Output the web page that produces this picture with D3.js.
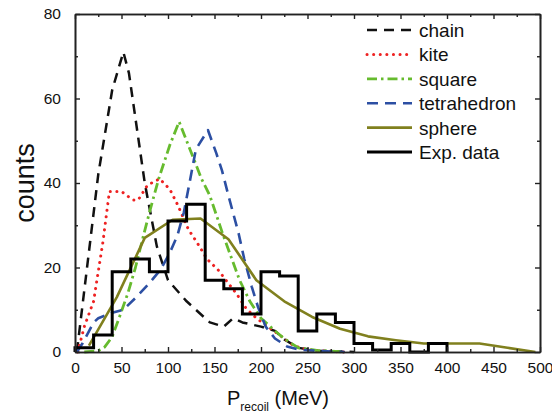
<!DOCTYPE html>
<html>
<head>
<meta charset="utf-8">
<script src="https://cdn.jsdelivr.net/npm/d3@7"></script>
<style>
  html, body { margin: 0; padding: 0; background: #fff; }
  svg { display: block; font-family: Arial, "Liberation Sans", Helvetica, sans-serif; }
</style>
</head>
<body>
<svg id="chart" width="552" height="414"></svg>
<script>
// Simulated recoil-momentum distributions for several cluster geometries: [P_recoil (MeV), counts]
const chain = [[2,0],[25,42],[40,62],[52,71],[58,66],[75,40],[88,25],[100,17],[120,12],[145,7],[160,6],[170,8],[180,7],[200,6],[215,5],[225,3],[240,1],[260,0.3],[300,0]];
const kite = [[3,0],[10,6],[20,12],[30,26],[37,38],[50,38],[62,36],[68,36],[78,39.5],[91,41],[102,38.5],[110,35],[122,29],[131,26],[142,22],[154,19.4],[163,16.8],[174,13.7],[184,10.3],[195,8],[210,5.6],[220,4],[235,1.5],[250,0.5],[270,0.2],[290,0]];
const square = [[10,0],[25,0.3],[32,1.2],[40,3.6],[48,8.4],[57,14],[65,20],[73,27],[80,33],[90,41],[102,49],[112,54.5],[120,50],[136,41],[145,37],[158,28.5],[167,23],[177,17],[188,12],[200,8],[215,5],[226,3],[240,1],[260,0.4],[290,0]];
const tetrahedron = [[2,0],[8,2],[20,7],[25,8],[40,9.3],[52,10],[66,13],[80,16.3],[92,19.5],[102,23.5],[110,27.5],[117,33],[124,41],[130,48],[143,52.5],[152,47],[158,43],[165,37],[176,28],[182,22],[190,15.5],[197,10.5],[205,6],[215,3.2],[228,1.3],[242,0.5],[260,0.3],[290,0]];
const sphere = [[15,1.5],[45,13],[75,27],[105,31.3],[135,31.6],[165,26.7],[195,17],[225,12],[255,8.3],[285,5.5],[315,3.7],[345,2.8],[375,2],[405,2],[435,2],[465,1],[495,0]];

// Measured histogram: 20 MeV bins starting at 0 MeV
const binWidth = 20;
const expCounts = [1,4,19,22,19,31,35,17,15,9,19,18,5,9,7,2,0.5,2,0,2];

// Axis ticks
const xMajor = [0,50,100,150,200,250,300,350,400,450,500];
const xMinor = [25,75,125,175,225,275,325,375,425,475];
const yMajor = [0,20,40,60,80];
const yMinor = [10,30,50,70];

const seriesNames = ["chain","kite","square","tetrahedron","sphere","Exp. data"];

const svg = d3.select("#chart");
const plotLeft = 75, plotRight = 540, plotTop = 14, plotBottom = 352;

const x = d3.scaleLinear().domain([0, 500]).range([plotLeft, plotRight]);
const y = d3.scaleLinear().domain([0, 80]).range([plotBottom, plotTop]);

const styles = {
  "chain":       {color: "#111111", width: 2.5, dash: "10,7", cap: "butt"},
  "kite":        {color: "#ee2222", width: 3, dash: "0.1,6.5", cap: "round"},
  "square":      {color: "#66bb2e", width: 2.8, dash: "10,4,2.5,4", cap: "butt"},
  "tetrahedron": {color: "#2c4fa3", width: 2.6, dash: "11,7", cap: "butt"},
  "sphere":      {color: "#80801e", width: 2.6, dash: null, cap: "butt"},
  "Exp. data":   {color: "#000000", width: 3, dash: null, cap: "butt"}
};

const line = d3.line().x(d => x(d[0])).y(d => y(d[1]));

const plot = svg.append("g");

const curves = [["chain", chain], ["kite", kite], ["square", square], ["tetrahedron", tetrahedron], ["sphere", sphere]];
curves.forEach(([name, data]) => {
  const s = styles[name];
  plot.append("path")
    .datum(data)
    .attr("d", line)
    .attr("fill", "none")
    .attr("stroke", s.color)
    .attr("stroke-width", s.width)
    .attr("stroke-dasharray", s.dash)
    .attr("stroke-linecap", s.cap)
    .attr("stroke-linejoin", "round");
});

// Histogram as a step outline
const stepPts = [[0, 0]];
expCounts.forEach((c, i) => {
  stepPts.push([i * binWidth, c]);
  stepPts.push([(i + 1) * binWidth, c]);
});
stepPts.push([expCounts.length * binWidth, 0]);
plot.append("path")
  .datum(stepPts)
  .attr("d", line)
  .attr("fill", "none")
  .attr("stroke", styles["Exp. data"].color)
  .attr("stroke-width", styles["Exp. data"].width)
  .attr("stroke-linejoin", "miter");

// Frame with inward ticks on all sides
const axisColor = "#222";
const fmt = d3.format("d");
const bAxis = d3.axisBottom(x).tickValues(xMajor).tickSizeInner(-5).tickSizeOuter(0).tickPadding(10).tickFormat(fmt);
const tAxis = d3.axisTop(x).tickValues(xMajor).tickSizeInner(-5).tickSizeOuter(0).tickFormat("");
const lAxis = d3.axisLeft(y).tickValues(yMajor).tickSizeInner(-5).tickSizeOuter(0).tickPadding(14).tickFormat(fmt);
const rAxis = d3.axisRight(y).tickValues(yMajor).tickSizeInner(-5).tickSizeOuter(0).tickFormat("");
const bMin = d3.axisBottom(x).tickValues(xMinor).tickSizeInner(-3).tickSizeOuter(0).tickFormat("");
const tMin = d3.axisTop(x).tickValues(xMinor).tickSizeInner(-3).tickSizeOuter(0).tickFormat("");
const lMin = d3.axisLeft(y).tickValues(yMinor).tickSizeInner(-3).tickSizeOuter(0).tickFormat("");
const rMin = d3.axisRight(y).tickValues(yMinor).tickSizeInner(-3).tickSizeOuter(0).tickFormat("");

function drawAxis(gen, tx, ty) {
  const g = svg.append("g").attr("transform", `translate(${tx},${ty})`).call(gen);
  g.selectAll("path.domain").attr("stroke", axisColor).attr("stroke-width", 1.6);
  g.selectAll(".tick line").attr("stroke", axisColor).attr("stroke-width", 1.4);
  g.selectAll(".tick text").attr("fill", "#111").style("font-size", "15.5px").style("font-family", "Arial, 'Liberation Sans', sans-serif");
  return g;
}
drawAxis(bAxis, 0, plotBottom);
drawAxis(tAxis, 0, plotTop);
drawAxis(lAxis, plotLeft, 0);
drawAxis(rAxis, plotRight, 0);
drawAxis(bMin, 0, plotBottom);
drawAxis(tMin, 0, plotTop);
drawAxis(lMin, plotLeft, 0);
drawAxis(rMin, plotRight, 0);

// Axis titles
svg.append("text")
  .attr("transform", `translate(34,${(plotTop + plotBottom) / 2}) rotate(-90)`)
  .attr("text-anchor", "middle")
  .style("font-size", "27px")
  .attr("fill", "#111")
  .text("counts");

const xt = svg.append("text")
  .attr("x", 227).attr("y", 405)
  .style("font-size", "20px")
  .attr("fill", "#111");
xt.append("tspan").text("P");
xt.append("tspan").attr("dy", 6).style("font-size", "12px").text("recoil");
xt.append("tspan").attr("dy", -6).text(" (MeV)");

// Legend
const legend = svg.append("g");
seriesNames.forEach((name, i) => {
  const s = styles[name];
  const cy = 30 + i * 24.4;
  legend.append("line")
    .attr("x1", 367).attr("x2", 412).attr("y1", cy).attr("y2", cy)
    .attr("stroke", s.color)
    .attr("stroke-width", s.width)
    .attr("stroke-dasharray", s.dash)
    .attr("stroke-linecap", s.cap);
  legend.append("text")
    .attr("x", 419).attr("y", cy + 7)
    .style("font-size", "19px")
    .attr("fill", "#111")
    .text(name);
});
</script>
</body>
</html>
